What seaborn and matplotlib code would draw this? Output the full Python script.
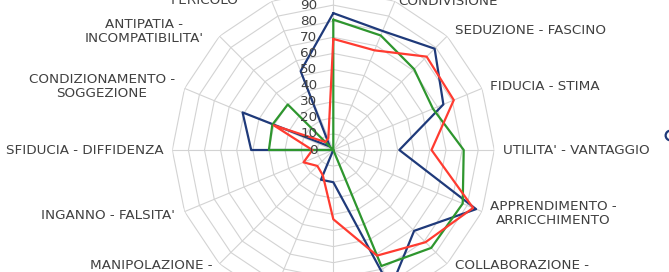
import numpy as np
import pandas as pd
import matplotlib
matplotlib.use("Agg")
import matplotlib.pyplot as plt
import seaborn as sns
from matplotlib.lines import Line2D

# ---------------- data (clockwise from the top spoke) ----------------
categories = [
    "AMICIZIA - AFFETTO",
    "CONDIVISIONE",
    "SEDUZIONE - FASCINO",
    "FIDUCIA - STIMA",
    "UTILITA' - VANTAGGIO",
    "APPRENDIMENTO -\nARRICCHIMENTO",
    "COLLABORAZIONE -\nCOOPERAZIONE",
    "RISPETTO - STIMA",
    "DIPENDENZA",
    "COMPETIZIONE - RIVALITA'",
    "MANIPOLAZIONE -\nSFRUTTAMENTO",
    "INGANNO - FALSITA'",
    "SFIDUCIA - DIFFIDENZA",
    "CONDIZIONAMENTO -\nSOGGEZIONE",
    "ANTIPATIA -\nINCOMPATIBILITA'",
    "PREOCCUPAZIONE -\nPERICOLO",
]
series_names = ["Serie1", "Serie2", "Serie3"]
serie_blu = [85, 80, 89, 74, 41, 96, 71, 93, 20, 20, 0, 0, 51, 61, 3, 53]
serie_verde = [81, 77, 71, 67, 81, 87, 86, 78, 0, 0, 0, 0, 40, 41, 40, 0]
serie_rossa = [69, 67, 82, 81, 61, 94, 81, 71, 43, 17, 14, 20, 13, 40, 7, 8]
tick_values = [0, 10, 20, 30, 40, 50, 60, 70, 80, 90]
ring_levels = [10, 20, 30, 40, 50, 60, 70, 80, 90, 100]

colors = ["#1F3A7A", "#2E962E", "#FF3B30"]

# ---------------- figure ----------------
sns.set_theme(style="white")
plt.rcParams["font.family"] = ["DejaVu Sans"]

W, H = 669, 272
fig = plt.figure(figsize=(W / 100, H / 100), dpi=100)
fig.patch.set_facecolor("white")

cx, cy, R = 333.3, 150.0, 161.0
ax = fig.add_axes([(cx - R) / W, (H - cy - R) / H, 2 * R / W, 2 * R / H],
                  projection="polar")
ax.set_theta_zero_location("N")
ax.set_theta_direction(-1)
ax.patch.set_alpha(0)
ax.grid(False)
ax.spines["polar"].set_visible(False)

n = len(categories)
theta = np.arange(n) * 2 * np.pi / n
theta_closed = np.append(theta, theta[0])

# polygonal web grid
grid_kw = dict(color="#D3D3D3", lw=0.8, zorder=1)
for lev in ring_levels:
    ax.plot(theta_closed, [lev] * (n + 1), **grid_kw)
for t in theta:
    ax.plot([t, t], [0, 100], **grid_kw)

# series
rows = []
for name, vals in zip(series_names, [serie_blu, serie_verde, serie_rossa]):
    closed = list(vals) + [vals[0]]
    for i, (t, v) in enumerate(zip(theta_closed, closed)):
        rows.append({"serie": name, "ordine": i, "theta": t, "valore": v})
df = pd.DataFrame(rows)

sns.lineplot(data=df, x="theta", y="valore", hue="serie", units="serie",
             estimator=None, sort=False, palette=colors,
             linewidth=1.6, ax=ax, legend=False, zorder=3)

ax.set_xlim(0, 2 * np.pi)
ax.set_ylim(0, 100)
ax.set_xticks([])
ax.set_yticks([])
ax.set_xlabel("")
ax.set_ylabel("")

txt_color = "#404040"
fs = 9.7

# radial value labels
for v in tick_values:
    ax.annotate(str(v), xy=(0, v), xycoords="data", xytext=(-16, 0),
                textcoords="offset pixels", ha="right", va="center",
                fontsize=fs, color=txt_color, annotation_clip=False)

# category labels: (dx, dy) pixel offsets from spoke end, and alignment
label_pos = [
    ((0, 14), "center"),
    ((3, 0), "left"),
    ((8, 6), "left"),
    ((8, 2), "left"),
    ((9, 0), "left"),
    ((8, -2), "left"),
    ((8, -9), "left"),
    ((5, -8), "left"),
    ((0, -14), "center"),
    ((-5, -8), "right"),
    ((-7, -9), "right"),
    ((-9.5, -4), "right"),
    ((-9, 0), "right"),
    ((-9.5, 2), "right"),
    ((-16, 5), "right"),
    ((-67, 8), "center"),
]
for t, lab, (off, ha) in zip(theta, categories, label_pos):
    ax.annotate(lab, xy=(t, 100), xycoords="data", xytext=off,
                textcoords="offset pixels", ha=ha, va="center",
                multialignment="center", linespacing=1.1,
                fontsize=fs, color=txt_color, annotation_clip=False)

# legend (almost entirely outside the visible canvas, as in the reference)
handles = [Line2D([0], [0], color=c, lw=0, marker="o", mfc="none",
                  mew=1.6, ms=7) for c in colors]
fig.legend(handles, series_names, loc="center left", ncol=3,
           bbox_to_anchor=(667 / W, 1 - 136 / H), frameon=False,
           borderpad=0, borderaxespad=0, handlelength=0.5,
           handletextpad=0.4, fontsize=fs)

fig.savefig("out.png", dpi=100, facecolor="white")
